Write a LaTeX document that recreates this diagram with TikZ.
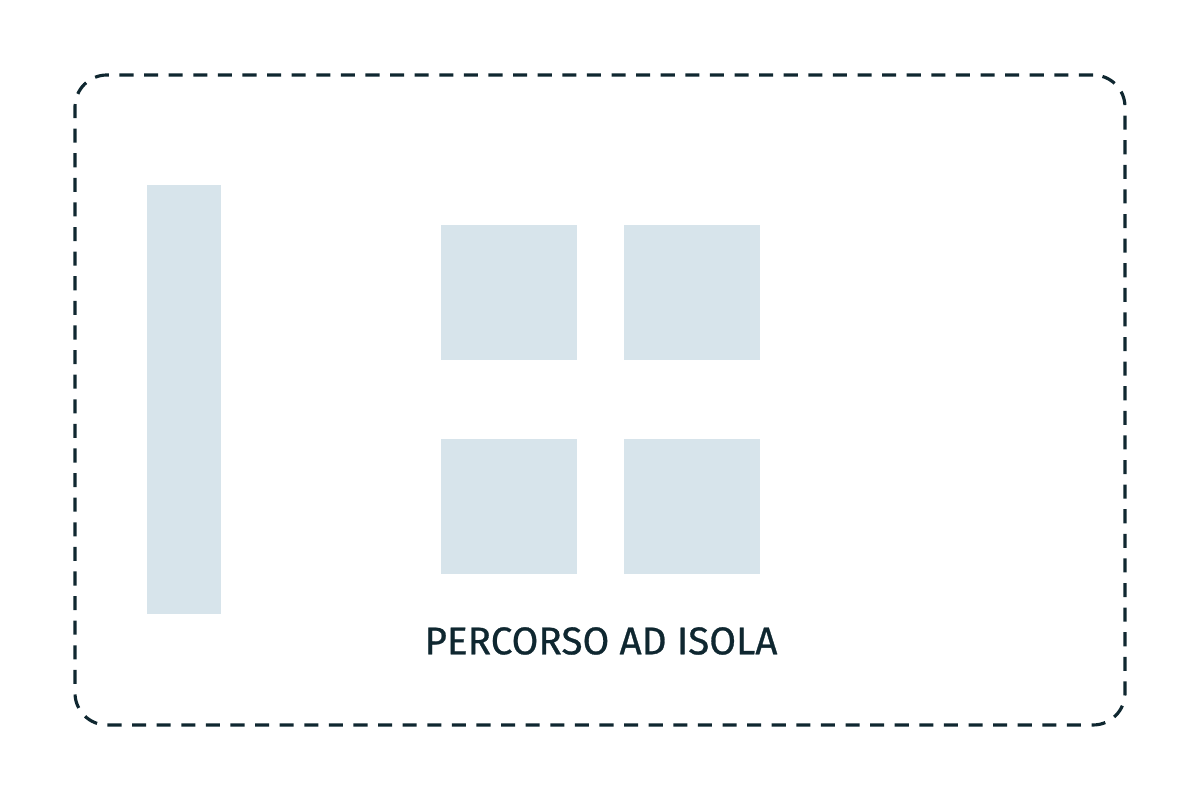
\documentclass[tikz,border=0pt]{standalone}
\usepackage{fontspec}
\setmainfont{Fira Sans}
\newfontfamily\labelfont{Fira Sans}[FakeBold=0.7]
\definecolor{tile}{HTML}{D7E4EB}
\definecolor{ink}{HTML}{0F2730}
\begin{document}
\begin{tikzpicture}
\useasboundingbox (0,0) rectangle (12,8);
\tikzset{block/.style={fill=tile, draw=none, inner sep=0pt}}
\node[draw=ink, line width=0.9pt, dash pattern=on 4pt off 3pt, rounded corners=0.32cm, minimum width=10.5cm, minimum height=6.5cm] (frame) at (6,4) {};

\node[block, minimum width=0.74cm, minimum height=4.29cm] (bar) at (1.84,4.005) {};

\node[block, minimum width=1.36cm, minimum height=1.35cm] (s1) at (5.09,5.075) {};
\node[block, minimum width=1.36cm, minimum height=1.35cm] (s2) at (6.92,5.075) {};
\node[block, minimum width=1.36cm, minimum height=1.35cm] (s3) at (5.09,2.935) {};
\node[block, minimum width=1.36cm, minimum height=1.35cm] (s4) at (6.92,2.935) {};

\node[color=ink, font=\labelfont\fontsize{11}{13}\selectfont] (label) at (6.01,1.59) {PERCORSO AD ISOLA};
\end{tikzpicture}
\end{document}
